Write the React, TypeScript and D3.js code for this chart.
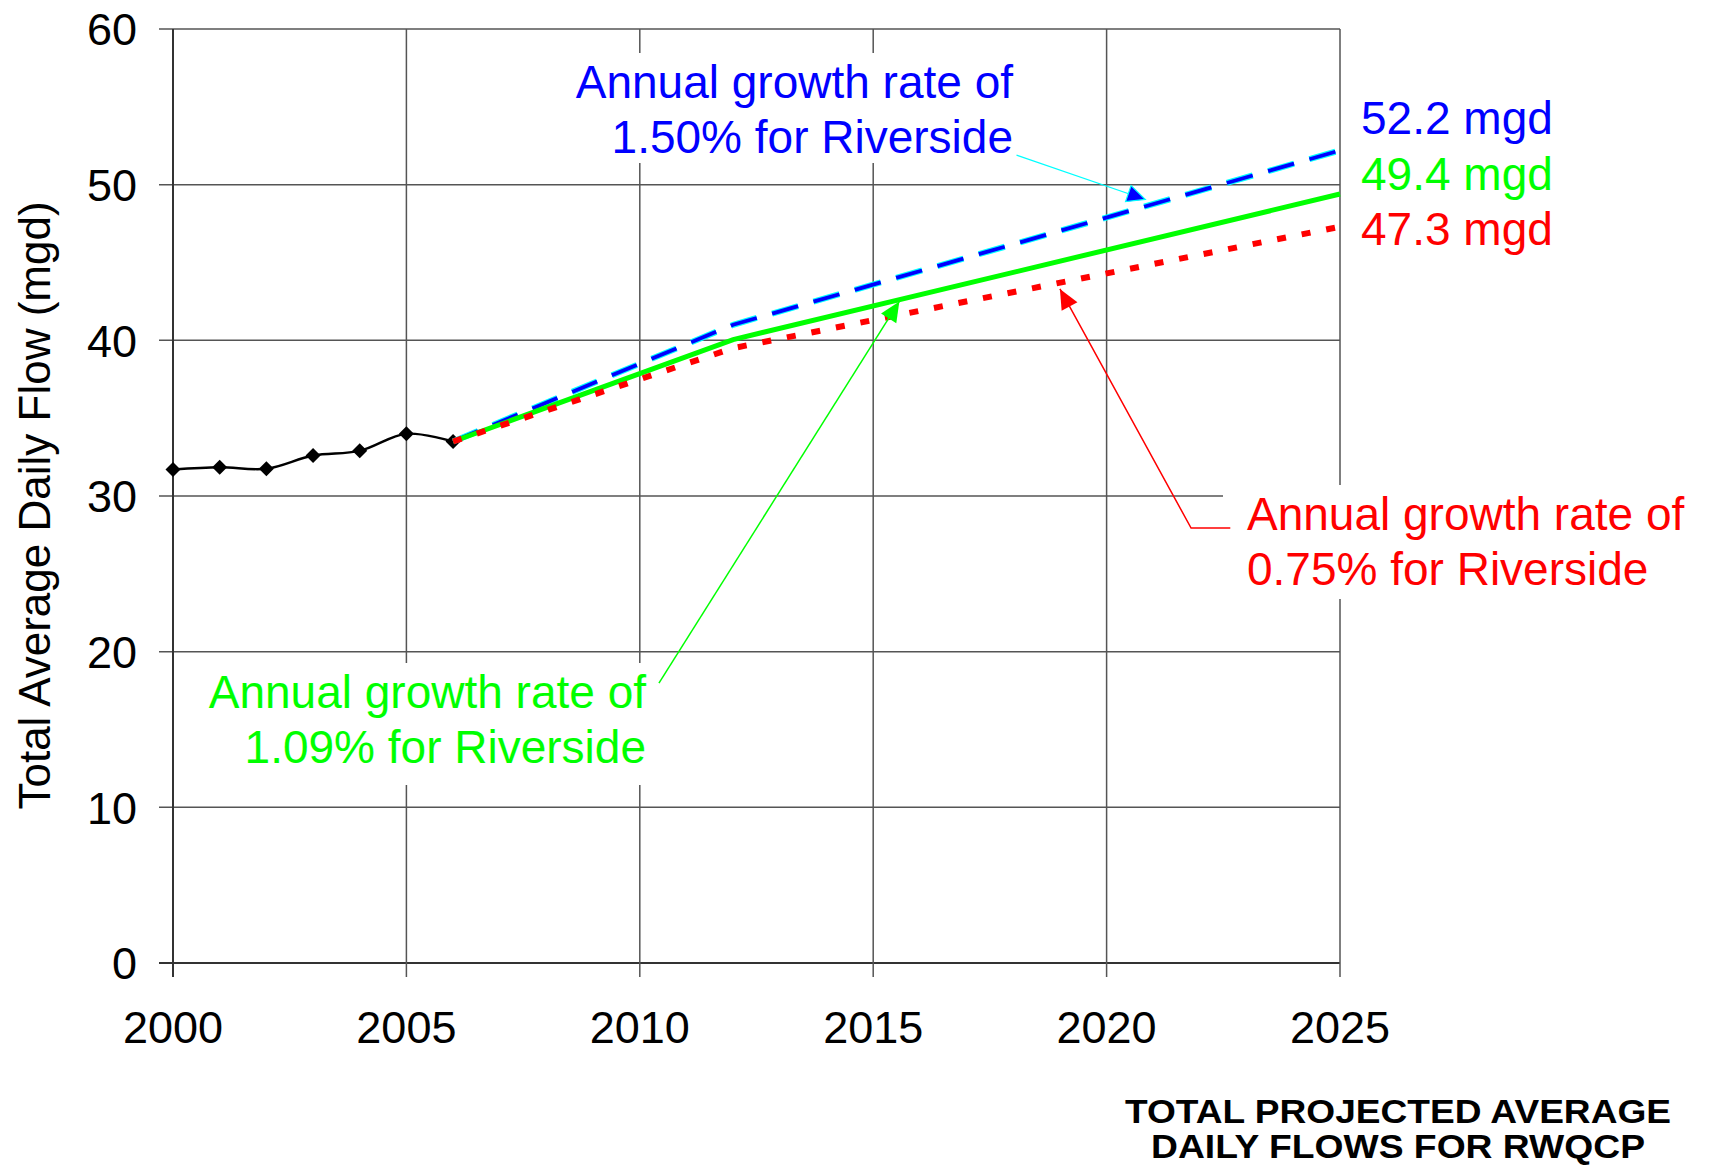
import React from "react";
import * as d3 from "d3";

const histYears = [2000, 2001, 2002, 2003, 2004, 2005, 2006];
const histFlows = [31.7, 31.85, 31.75, 32.6, 32.9, 34.0, 33.5];

const projYears = [2006, 2012, 2025];
const highFlows = [33.5, 41.0, 52.2]; // 1.50%
const midFlows = [33.5, 40.05, 49.4]; // 1.09%
const lowFlows = [33.5, 39.5, 47.3]; // 0.75%

const xTicks = [2000, 2005, 2010, 2015, 2020, 2025];
const yTicks = [0, 10, 20, 30, 40, 50, 60];

const endLabels = ["52.2 mgd", "49.4 mgd", "47.3 mgd"];
const blueText = ["Annual growth rate of", "1.50% for Riverside"];
const greenText = ["Annual growth rate of", "1.09% for Riverside"];
const redText = ["Annual growth rate of", "0.75% for Riverside"];
const titleLines = ["TOTAL PROJECTED AVERAGE", "DAILY FLOWS FOR RWQCP"];

// annotation arrow anchors in data units [year, mgd]
const blueArrow = [[2018.07, 51.9], [2020.83, 49.05]];
const greenArrow = [[2010.41, 17.98], [2015.56, 42.5]];
const redArrow = [[2022.65, 27.94], [2021.81, 27.94], [2019.0, 43.3]];

const FONT = "'Liberation Sans', Arial, Helvetica, sans-serif";
const BLUE = "#0000FF";
const GREEN = "#00FF00";
const RED = "#FF0000";
const CYAN = "#00FFFF";

function arrowHead(p0: number[], p1: number[], len: number, half: number) {
  const dx = p1[0] - p0[0];
  const dy = p1[1] - p0[1];
  const L = Math.hypot(dx, dy);
  const ux = dx / L, uy = dy / L;
  const bx = p1[0] - ux * len, by = p1[1] - uy * len;
  const px = -uy, py = ux;
  return `M${p1[0]},${p1[1]}L${bx + px * half},${by + py * half}L${bx - px * half},${by - py * half}Z`;
}

export default function App() {
  const W = 1714, H = 1165;
  const x = d3.scaleLinear().domain([2000, 2025]).range([173, 1340]);
  const y = d3.scaleLinear().domain([0, 60]).range([963, 29]);

  const histLine = d3
    .line<number>()
    .x((_, i) => x(histYears[i]))
    .y((d) => y(d))
    .curve(d3.curveCatmullRom.alpha(0.5));
  const projLine = d3
    .line<number>()
    .x((_, i) => x(projYears[i]))
    .y((d) => y(d));

  const toPx = (p: number[]) => [x(p[0]), y(p[1])];
  const bA = blueArrow.map(toPx);
  const gA = greenArrow.map(toPx);
  const rA = redArrow.map(toPx);

  const grid = "#555";
  const axis = "#333";

  return (
    <svg
      width={W}
      height={H}
      style={{ position: "absolute", left: 0, top: 0, background: "#fff" }}
      fontFamily={FONT}
    >
      <rect x={0} y={0} width={W} height={H} fill="#fff" />
      {/* horizontal gridlines */}
      {yTicks.map((t) => (
        <line
          key={"h" + t}
          x1={x(2000) - 14}
          x2={x(2025)}
          y1={y(t)}
          y2={y(t)}
          stroke={t === 0 ? axis : grid}
          strokeWidth={t === 0 ? 2 : 1.5}
        />
      ))}
      {/* vertical gridlines */}
      {xTicks.map((t) => (
        <line
          key={"v" + t}
          x1={x(t)}
          x2={x(t)}
          y1={y(60)}
          y2={y(0) + 14}
          stroke={t === 2000 ? axis : grid}
          strokeWidth={t === 2000 ? 2 : 1.5}
        />
      ))}

      {/* white annotation backgrounds */}
      <rect x={560} y={53} width={460} height={110} fill="#fff" />
      <rect x={190} y={663} width={465} height={122} fill="#fff" />
      <rect x={1223} y={485} width={491} height={114} fill="#fff" />

      {/* y tick labels */}
      {yTicks.map((t) => (
        <text
          key={"yl" + t}
          x={137}
          y={y(t)}
          dy="0.36em"
          textAnchor="end"
          fontSize={45}
          fill="#000"
        >
          {t}
        </text>
      ))}
      {/* x tick labels */}
      {xTicks.map((t) => (
        <text key={"xl" + t} x={x(t)} y={1043} textAnchor="middle" fontSize={45} fill="#000">
          {t}
        </text>
      ))}

      {/* y axis title */}
      <text
        transform={`translate(50,${(197 + 814) / 2}) rotate(-90)`}
        textAnchor="middle"
        fontSize={44}
        fill="#000"
      >
        Total Average Daily Flow (mgd)
      </text>

      {/* historical */}
      <path d={histLine(histFlows) || ""} fill="none" stroke="#000" strokeWidth={2.4} />
      {histFlows.map((v, i) => {
        const cx = x(histYears[i]);
        const cy = y(v);
        const s = 7.5;
        return (
          <path
            key={"m" + i}
            d={`M${cx},${cy - s}L${cx + s},${cy}L${cx},${cy + s}L${cx - s},${cy}Z`}
            fill="#000"
          />
        );
      })}

      {/* projections */}
      <path
        d={projLine(highFlows) || ""}
        fill="none"
        stroke={CYAN}
        strokeWidth={6}
        strokeDasharray="27 16"
      />
      <path
        d={projLine(highFlows) || ""}
        fill="none"
        stroke={BLUE}
        strokeWidth={3.8}
        strokeDasharray="27 16"
      />
      <path d={projLine(midFlows) || ""} fill="none" stroke={GREEN} strokeWidth={5} />
      <path
        d={projLine(lowFlows) || ""}
        fill="none"
        stroke={RED}
        strokeWidth={6}
        strokeDasharray="9 16"
      />

      {/* blue annotation */}
      {blueText.map((s, i) => (
        <text key={"bt" + i} x={1013} y={98 + i * 55} textAnchor="end" fontSize={46} fill={BLUE}>
          {s}
        </text>
      ))}
      <line x1={bA[0][0]} y1={bA[0][1]} x2={bA[1][0]} y2={bA[1][1]} stroke={CYAN} strokeWidth={1.2} />
      <path d={arrowHead(bA[0], bA[1], 18, 8.5)} fill={BLUE} stroke={CYAN} strokeWidth={1.2} />

      {/* green annotation */}
      {greenText.map((s, i) => (
        <text key={"gt" + i} x={646} y={708 + i * 55} textAnchor="end" fontSize={46} fill={GREEN}>
          {s}
        </text>
      ))}
      <line x1={gA[0][0]} y1={gA[0][1]} x2={gA[1][0]} y2={gA[1][1]} stroke={GREEN} strokeWidth={1.5} />
      <path d={arrowHead(gA[0], gA[1], 20, 9)} fill={GREEN} />

      {/* red annotation */}
      {redText.map((s, i) => (
        <text key={"rt" + i} x={1247} y={530 + i * 55} textAnchor="start" fontSize={46} fill={RED}>
          {s}
        </text>
      ))}
      <polyline
        points={rA.map((p) => p.join(",")).join(" ")}
        fill="none"
        stroke={RED}
        strokeWidth={1.5}
      />
      <path d={arrowHead(rA[1], rA[2], 20, 9)} fill={RED} />

      {/* end labels */}
      {endLabels.map((s, i) => (
        <text
          key={"el" + i}
          x={1361}
          y={134 + i * 55.5}
          fontSize={46}
          fill={[BLUE, GREEN, RED][i]}
        >
          {s}
        </text>
      ))}

      {/* title */}
      {titleLines.map((s, i) => (
        <text
          key={"tl" + i}
          x={1398}
          y={1123 + i * 35}
          textAnchor="middle"
          fontSize={34}
          fontWeight="bold"
          fill="#000"
          textLength={i === 0 ? 546 : 494}
          lengthAdjust="spacingAndGlyphs"
        >
          {s}
        </text>
      ))}
    </svg>
  );
}
